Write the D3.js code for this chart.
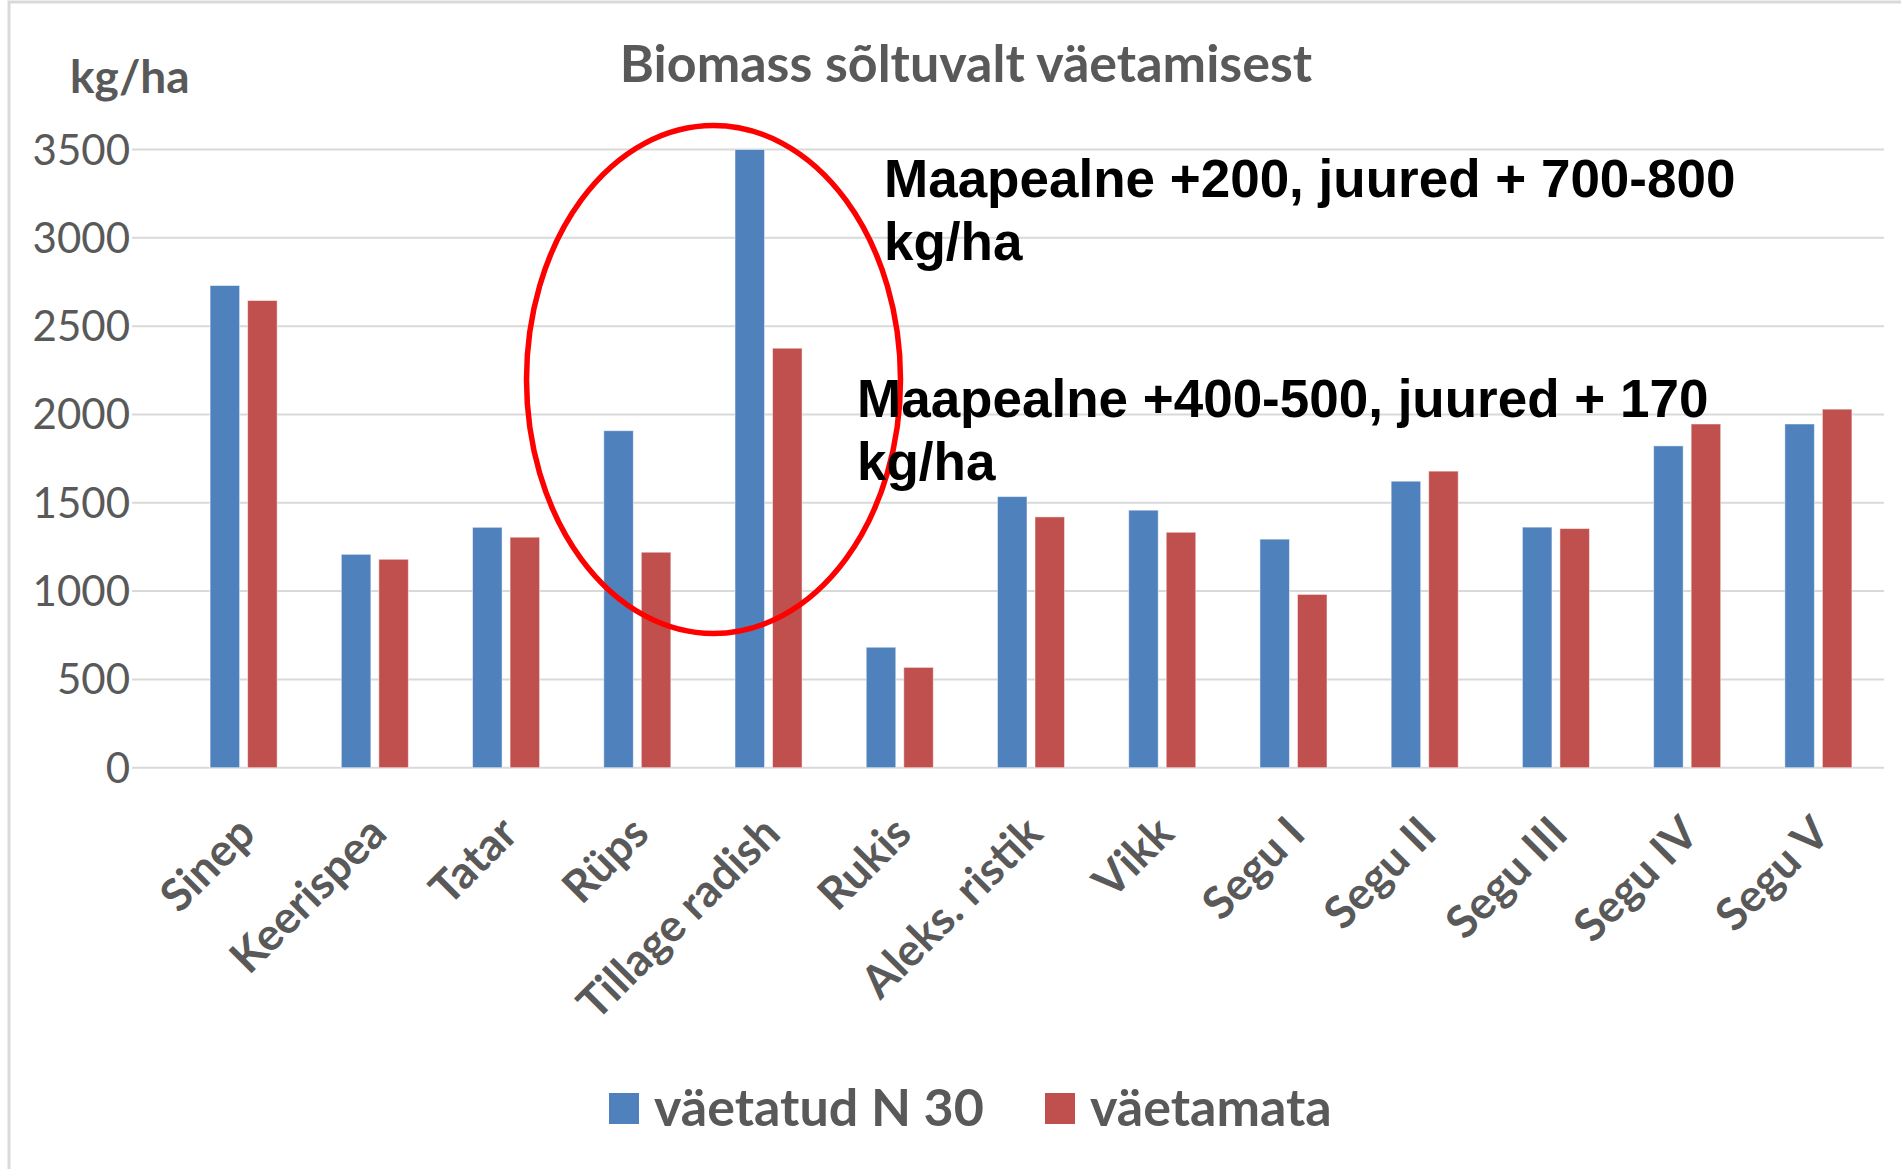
<!DOCTYPE html>
<html>
<head>
<meta charset="utf-8">
<script src="https://cdn.jsdelivr.net/npm/d3@7"></script>
<style>
  body { margin: 0; background: #fff; }
  svg { display: block; }
</style>
</head>
<body>
<svg id="chart" width="1901" height="1169"></svg>
<script>
// andmed
const kultuurid = ["Sinep", "Keerispea", "Tatar", "Rüps", "Tillage radish", "Rukis",
    "Aleks. ristik", "Vikk", "Segu I", "Segu II", "Segu III", "Segu IV", "Segu V"];
const seeriad = ["väetatud N 30", "väetamata"];
const vaetatud = [2730, 1208, 1361, 1908, 3500, 682, 1535, 1458, 1294, 1622, 1362, 1822, 1946];
const vaetamata = [2645, 1180, 1305, 1220, 2375, 568, 1420, 1333, 981, 1679, 1354, 1946, 2030];
const yTicks = [0, 500, 1000, 1500, 2000, 2500, 3000, 3500];
const pealkiri = "Biomass sõltuvalt väetamisest";
const yPealkiri = "kg/ha";
const markus1 = ["Maapealne +200, juured + 700-800", "kg/ha"];
const markus2 = ["Maapealne +400-500, juured + 170", "kg/ha"];

const varvid = ["#4f81bd", "#c0504d"];
const hall = "#595959";

const svg = d3.select("#chart");

// raam
svg.append("rect")
    .attr("x", 9).attr("y", 2)
    .attr("width", 1900).attr("height", 1180)
    .attr("fill", "#fff")
    .attr("stroke", "#d9d9d9")
    .attr("stroke-width", 3);

const gridLeft = 132, gridRight = 1884;

const y = d3.scaleLinear().domain([0, 3500]).range([767.7, 149.5]);

const x0 = d3.scaleBand()
    .domain(kultuurid)
    .range([178, 1884])
    .paddingInner(0.489)
    .paddingOuter(0.2445);

const x1 = d3.scaleBand()
    .domain(seeriad)
    .range([0, x0.bandwidth()])
    .paddingInner(0.213);

// ruudustik
svg.append("g")
    .selectAll("line")
    .data(yTicks)
    .join("line")
    .attr("x1", gridLeft).attr("x2", gridRight)
    .attr("y1", d => y(d)).attr("y2", d => y(d))
    .attr("stroke", "#d9d9d9")
    .attr("stroke-width", 2);

// y telje sildid
svg.append("g")
    .selectAll("text")
    .data(yTicks)
    .join("text")
    .attr("x", 130)
    .attr("y", d => y(d) + 15)
    .attr("text-anchor", "end")
    .attr("font-family", "Lato")
    .attr("font-size", 42)
    .attr("fill", hall)
    .text(d => d);

// tulbad
const tabel = kultuurid.map((k, i) => ({kultuur: k, vaartused: [vaetatud[i], vaetamata[i]]}));

const grupid = svg.append("g")
    .selectAll("g")
    .data(tabel)
    .join("g")
    .attr("transform", d => `translate(${x0(d.kultuur)},0)`);

grupid.selectAll("rect")
    .data(d => d.vaartused.map((v, j) => ({seeria: seeriad[j], v: v, j: j})))
    .join("rect")
    .attr("x", d => x1(d.seeria))
    .attr("y", d => y(d.v))
    .attr("width", x1.bandwidth())
    .attr("height", d => y(0) - y(d.v))
    .attr("fill", d => varvid[d.j])
    .attr("stroke", "#fff")
    .attr("stroke-opacity", 0.5)
    .attr("stroke-width", 1);

// x telje sildid (45 kraadi)
svg.append("g")
    .selectAll("text")
    .data(kultuurid)
    .join("text")
    .attr("transform", d => {
        const cx = x0(d) + x0.bandwidth() / 2 + 14;
        return `translate(${cx},836) rotate(-45)`;
    })
    .attr("text-anchor", "end")
    .attr("font-family", "Lato")
    .attr("font-weight", "bold")
    .attr("font-size", 45)
    .attr("fill", hall)
    .text(d => d);

// pealkirjad
svg.append("text")
    .attr("x", 966).attr("y", 82)
    .attr("text-anchor", "middle")
    .attr("font-family", "Lato")
    .attr("font-weight", "bold")
    .attr("font-size", 52)
    .attr("fill", hall)
    .text(pealkiri);

svg.append("text")
    .attr("x", 70).attr("y", 93)
    .attr("font-family", "Lato")
    .attr("font-weight", "bold")
    .attr("font-size", 46)
    .attr("fill", hall)
    .text(yPealkiri);

// legend
const legend = svg.append("g");
const legX = [609, 1045];
seeriad.forEach((s, i) => {
    legend.append("rect")
        .attr("x", legX[i]).attr("y", 1093)
        .attr("width", 30).attr("height", 31)
        .attr("fill", varvid[i]);
    legend.append("text")
        .attr("x", legX[i] + 45).attr("y", 1126)
        .attr("font-family", "Lato")
        .attr("font-weight", "bold")
        .attr("font-size", 52)
        .attr("fill", hall)
        .text(s);
});

// punane ellips
svg.append("ellipse")
    .attr("cx", 713.5).attr("cy", 379.5)
    .attr("rx", 187).attr("ry", 254)
    .attr("fill", "none")
    .attr("stroke", "#ff0000")
    .attr("stroke-width", 5.5);

// märkused
function markus(read, x, yy) {
    const t = svg.append("text")
        .attr("font-family", "Liberation Sans, Arial")
        .attr("font-weight", "bold")
        .attr("font-size", 53)
        .attr("fill", "#000");
    read.forEach((r, i) => {
        t.append("tspan").attr("x", x).attr("y", yy + i * 63).text(r);
    });
}
markus(markus1, 884, 197);
markus(markus2, 857, 417);
</script>
</body>
</html>
